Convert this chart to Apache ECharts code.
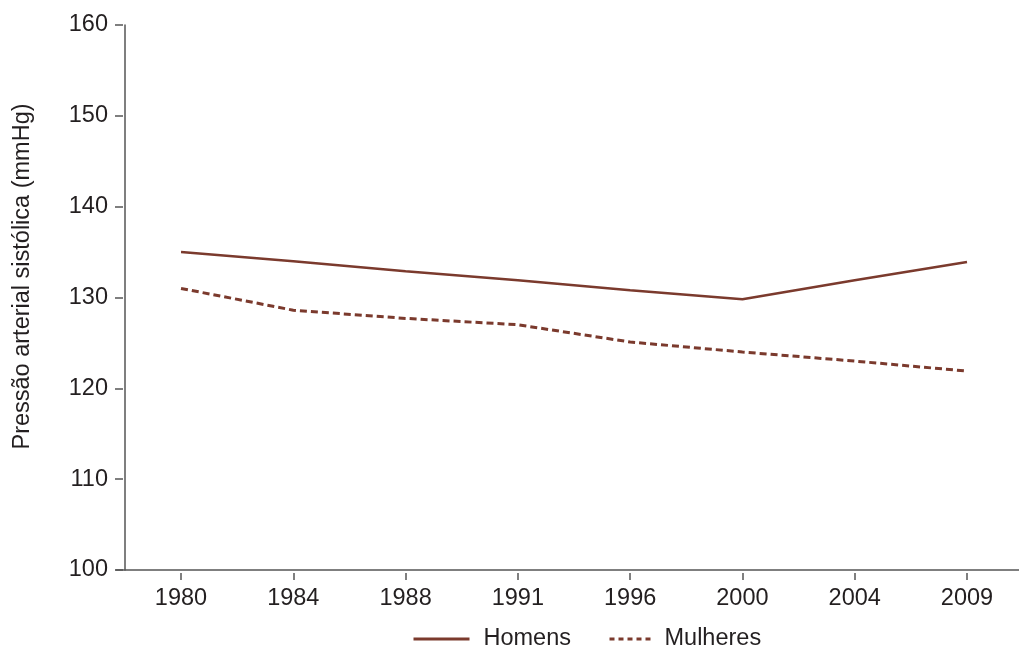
<!DOCTYPE html>
<html><head><meta charset="utf-8">
<script src="https://cdn.jsdelivr.net/npm/echarts@6/dist/echarts.min.js"></script>
<style>html,body{margin:0;padding:0;background:#fff}#c{width:1019px;height:650px}</style>
</head><body><div id="c"></div>
<script>
const categories = ['1980','1984','1988','1991','1996','2000','2004','2009'];
const homens = [135.0, 134.0, 132.9, 131.9, 130.8, 129.8, 131.9, 133.9];
const mulheres = [131.0, 128.6, 127.7, 127.0, 125.1, 124.0, 123.0, 121.9];
const yTicks = [100, 110, 120, 130, 140, 150, 160];

const idx = categories.map((_, i) => i);
const color = '#7b3a2d';
const txt = '#231f20';
const axisColor = '#555555';
const font = 'Liberation Sans, Arial, sans-serif';
const fs = 23.5;
const xMin = -0.579, xMax = 7.463;
const hiddenSymbol = { color: 'rgba(0,0,0,0)', borderWidth: 0 };

const chart = echarts.init(document.getElementById('c'));
chart.setOption({
  animation: false,
  backgroundColor: '#fff',
  grid: { left: 116, right: 0, top: 25, bottom: 80, containLabel: false, outerBoundsMode: 'none' },
  xAxis: [
    { type: 'value', min: xMin, max: xMax, position: 'bottom',
      axisLine: { show: true, onZero: false, lineStyle: { color: axisColor, width: 1.5 } },
      axisTick: { show: false }, axisLabel: { show: false }, splitLine: { show: false } },
    { type: 'value', min: xMin, max: xMax, position: 'bottom', offset: 3,
      axisLine: { show: false, onZero: false },
      axisTick: { show: true, length: 7, customValues: idx, lineStyle: { color: axisColor, width: 1.5 } },
      axisLabel: { show: true, customValues: idx, margin: 14, color: txt, fontSize: fs, fontFamily: font,
        formatter: v => categories[Math.round(v)] },
      splitLine: { show: false } }
  ],
  yAxis: [
    { type: 'value', min: 100, max: 160, interval: 10, offset: -9, position: 'left',
      axisLine: { show: true, onZero: false, lineStyle: { color: axisColor, width: 1.5 } },
      axisTick: { show: false }, axisLabel: { show: false }, splitLine: { show: false },
      name: 'Pressão arterial sistólica (mmHg)', nameLocation: 'middle', nameGap: 90,
      nameTextStyle: { color: txt, fontSize: fs, fontFamily: font, padding: [0, 0, 0, 42] } },
    { type: 'value', min: 100, max: 160, interval: 10, offset: -7, position: 'left',
      axisLine: { show: false, onZero: false },
      axisTick: { show: true, length: 8, lineStyle: { color: axisColor, width: 1.5 } },
      axisLabel: { show: true, margin: 15, color: txt, fontSize: fs, fontFamily: font },
      splitLine: { show: false } }
  ],
  legend: [
    { top: 622, left: 407, itemWidth: 56, itemHeight: 14, itemStyle: hiddenSymbol,
      lineStyle: { width: 3 },
      textStyle: { color: txt, fontSize: fs, fontFamily: font, padding: [0, 0, 0, 9] },
      data: ['Homens'] },
    { top: 622, left: 603, itemWidth: 45, itemHeight: 14, itemStyle: hiddenSymbol,
      lineStyle: { width: 3, type: [5, 4] },
      textStyle: { color: txt, fontSize: fs, fontFamily: font, padding: [0, 0, 0, 5] },
      data: ['Mulheres'] }
  ],
  series: [
    { name: 'Homens', type: 'line', xAxisIndex: 0, yAxisIndex: 0,
      data: homens.map((v, i) => [idx[i], v]), showSymbol: false, symbol: 'none',
      lineStyle: { color: color, width: 2.5, type: 'solid' }, itemStyle: { color: color } },
    { name: 'Mulheres', type: 'line', xAxisIndex: 0, yAxisIndex: 0,
      data: mulheres.map((v, i) => [idx[i], v]), showSymbol: false, symbol: 'none',
      lineStyle: { color: color, width: 3, type: [7, 4] }, itemStyle: { color: color } }
  ]
});
</script></body></html>
